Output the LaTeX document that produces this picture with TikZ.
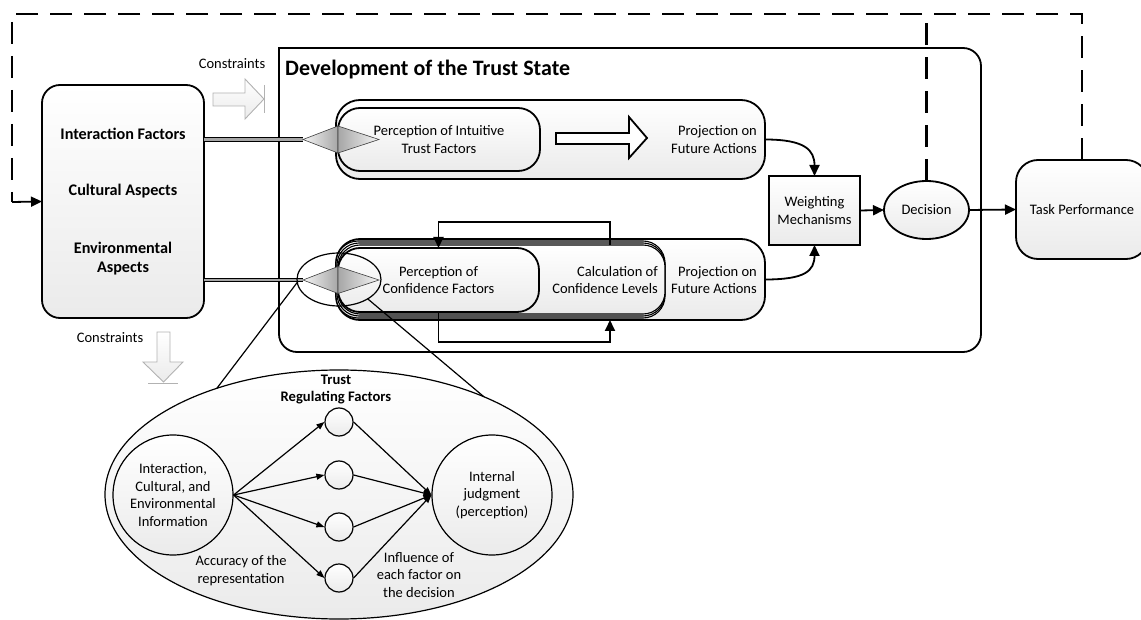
\documentclass[tikz,border=0pt]{standalone}
\usepackage{fontspec}
\setmainfont{Carlito}
\usetikzlibrary{arrows.meta,shapes.geometric}
\begin{document}
\begin{tikzpicture}[x=1pt,y=-1pt,
  lw/.style={line width=1.8pt},
  thin line/.style={line width=1.2pt},
  shadebox/.style={top color=white,bottom color=gray!16},
  txt/.style={font=\fontsize{14.5}{17.5}\selectfont,align=center,inner sep=0pt},
  btxt/.style={font=\fontsize{16.2}{19}\selectfont\bfseries,align=center,inner sep=0pt},
  sized/.style 2 args={minimum width=#1,minimum height=#2,inner sep=0pt,outer sep=0pt},
  rbox/.style={draw,lw,shadebox,rounded corners=#1,font=\fontsize{14.5}{17.5}\selectfont,align=center},
  stackbox/.style={draw,line width=1.1pt,shadebox,rounded corners=22},
  arr/.style={lw,-{Triangle[length=11pt,width=10pt]}},
  arrsmall/.style={thin line,-{Triangle[length=8pt,width=6pt]}},
  feedback/.style={line width=2.3pt,dash pattern=on 22pt off 12pt},
  bundle/.style={line width=1.1pt,double=gray!70,double distance=2.6pt},
  blockarrow/.style={draw=gray!60,line width=0.9pt,shadebox},
  diamondhalf/.style={draw=gray!50!black,line width=0.6pt},
]
\useasboundingbox (0,0) rectangle (1141,620);
\clip (0,0) rectangle (1141,620);

% frame of the trust-state development (square top-left corner)
\draw[lw] (279,200) [rounded corners=18] -- (279,352) -- (981,352) -- (981,48)
  -- (400,48) [sharp corners] -- (279,48) -- cycle;
\node[anchor=west,inner sep=0pt,font=\fontsize{22}{26}\selectfont\bfseries] (devtitle) at (285,70) {Development of the Trust State};

% influencing factors
\node[rbox=18,sized={162}{233}] (leftbox) at (123,201.5) {};
\node[btxt] (inter) at (123,134) {Interaction Factors};
\node[btxt] (cult) at (123,191) {Cultural Aspects};
\node[btxt] (env) at (123,258.5) {Environmental\\Aspects};

% constraints (towards the trust state)
\node[txt] (cons1) at (232,64) {Constraints};
\path[blockarrow] (213,93) -- (245,93) -- (245,79) -- (264,99) -- (245,119) -- (245,106) -- (213,106) -- cycle;
\draw[gray!60,line width=0.9pt] (264,85) -- (264,113);

% constraints (downwards)
\node[txt] (cons2) at (110,338) {Constraints};
\path[blockarrow] (157,332) -- (170,332) -- (170,362) -- (183,362) -- (163.5,382) -- (143,362) -- (157,362) -- cycle;
\draw[gray!60,line width=0.9pt] (148,383) -- (178,383);

% intuitive branch
\node[rbox=24,sized={429}{79}] (outerU) at (550.5,139.5) {};
\node[rbox=22,sized={202}{63}] (percU) at (439,139.5) {Perception of Intuitive\\Trust Factors};
\draw[lw,fill=white] (556,133) -- (629,133) -- (629,117) -- (647,138) -- (629,158) -- (629,144) -- (556,144) -- cycle;
\node[txt,anchor=east,align=right] (projU) at (757,139.5) {Projection on\\Future Actions};

% confidence branch (stacked)
\node[rbox=24,sized={429}{81}] (outerL) at (550.5,279.5) {};
\node[stackbox,sized={329}{77}] (stackA) at (500.5,279.5) {};
\node[stackbox,sized={328}{73}] (stackB) at (501,279.5) {};
\node[stackbox,sized={327}{69}] (calc) at (501.5,279.5) {};
\node[rbox=22,sized={201}{64}] (percL) at (438.5,280) {Perception of\\Confidence Factors};
\node[txt,anchor=east,align=right] (calctxt) at (658,280) {Calculation of\\Confidence Levels};
\node[txt,anchor=east,align=right] (projL) at (757,280) {Projection on\\Future Actions};

% internal loop of the confidence branch
\coordinate (fbx) at (610,0);
\coordinate (fbtop) at (0,222);
\coordinate (fbbot) at (0,342);
\draw[arr] (calc.north -| fbx) -- (fbx |- fbtop) -| (percL.north);
\draw[arr] (percL.south) -- (percL.south |- fbbot) -| (outerL.south -| fbx);

% input bundles with diamond junctions
\coordinate (du) at (303,139.5);
\coordinate (dl) at (303,280);
\draw[bundle] (leftbox.east |- du) -- (du);
\draw[bundle] (leftbox.east |- dl) -- (dl);
\foreach \y in {139.5,280}{
  \path[diamondhalf,left color=gray!8,right color=gray!70] (303,\y) -- (338,\y-13.5) -- (338,\y+13.5) -- cycle;
  \path[diamondhalf,left color=gray!70,right color=gray!8] (338,\y-13.5) -- (379,\y) -- (338,\y+13.5) -- cycle;
}

% magnified view of the lower junction
\node[draw,ellipse,thin line,sized={84}{53}] (lens) at (339,279.5) {};
\node[draw,ellipse,thin line,shadebox,sized={468}{249}] (bigE) at (339,494.5) {};
\draw[thin line] (lens.184) -- (bigE.139.4);
\draw[thin line] (lens.-34) -- (bigE.34);

\node[font=\fontsize{14.6}{17.5}\selectfont\bfseries,align=center,inner sep=0pt] (trf) at (336,389.5) {Trust\\Regulating Factors};
\node[draw,circle,thin line,shadebox,minimum size=120,inner sep=1pt,txt] (ic) at (173,495) {Interaction,\\Cultural, and\\Environmental\\Information};
\node[draw,circle,thin line,shadebox,minimum size=120,inner sep=1pt,txt] (ij) at (492,495) {Internal\\judgment\\(perception)};
\foreach \n/\y in {f1/422,f2/475,f3/527,f4/578}{
  \node[draw,circle,thin line,shadebox,minimum size=28,inner sep=0pt] (\n) at (339,\y) {};
  \draw[arrsmall] (ic.east) -- (\n.west);
  \draw[arrsmall] (\n.east) -- (ij.west);
}
\node[txt] (acc) at (241,570.5) {Accuracy of the\\representation};
\node[txt] (infl) at (419,575) {Influence of\\each factor on\\the decision};

% weighting, decision and task
\node[draw,lw,shadebox,sized={91}{69},txt] (wm) at (814.5,210.5) {Weighting\\Mechanisms};
\node[draw,lw,shadebox,ellipse,sized={85}{58},txt] (dec) at (926.5,210) {Decision};
\node[rbox=22,sized={132}{99}] (task) at (1082,209.5) {Task Performance};

\draw[arr] (outerU.east) .. controls +(40,0) and +(0,-26) .. (wm.north);
\draw[arr] (outerL.east) .. controls +(40,0) and +(0,26) .. (wm.south);
\draw[arr] (wm.east) -- (dec.west);
\draw[arr] (dec.east) -- (task.west);

% feedback loops
\coordinate (topline) at (0,14);
\coordinate (loopin) at (12,202);
\draw[feedback] (task.north) -- (task.north |- topline) -- (topline -| loopin) -- (loopin);
\draw[feedback] (dec.north) -- (dec.north |- topline);
\draw[arr] (loopin) -- (leftbox.west);
\end{tikzpicture}
\end{document}
